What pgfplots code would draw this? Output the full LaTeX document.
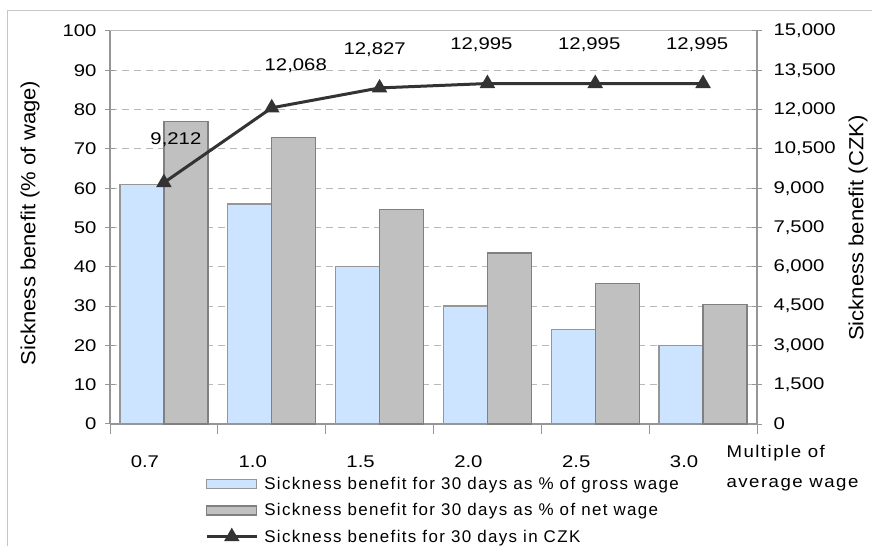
\documentclass[border=0pt]{standalone}
\usepackage{pgfplots}
\pgfplotsset{compat=1.18}
\usepackage{fontspec}
\setmainfont{Liberation Sans}
\definecolor{barblue}{RGB}{204,228,255}
\definecolor{bargrey}{RGB}{192,192,192}
\definecolor{edgegrey}{RGB}{128,128,128}
\definecolor{blueedge}{RGB}{150,150,150}
\definecolor{axisgrey}{RGB}{150,150,150}
\definecolor{gridgrey}{RGB}{185,185,185}
\definecolor{linecol}{RGB}{51,51,51}
\newcommand{\cf}{\fontsize{17}{20}\selectfont}
\newcommand{\lf}{\fontsize{17}{20}\selectfont\addfontfeature{LetterSpace=8}}
\newcommand{\yf}{\fontsize{20.5}{24}\selectfont}
\newcommand{\sx}[1]{\scalebox{1.2}[1]{#1}}
\pgfplotsset{
  every axis/.append style={font=\cf},
  /pgf/number format/assume math mode=true,
  tick label style={font=\cf},
  barlegend/.style={legend image code/.code={\draw[##1] (0bp,-4.5bp) rectangle (50bp,4.5bp);}},
  linelegend/.style={legend image code/.code={\draw[mark repeat=2,mark phase=2,##1] plot coordinates {(0bp,0bp) (25bp,0bp) (50bp,0bp)};}},
}
\begin{document}
\begin{tikzpicture}[font=\cf]
\useasboundingbox (0,0) rectangle (872bp,546bp);
\draw[gray!45, line width=1bp] (7bp,-5bp) -- (7bp,535bp) -- (880bp,535bp);
\begin{axis}[
  at={(110bp,122bp)}, anchor=south west, scale only axis,
  width=647bp, height=393bp,
  xmin=-0.5, xmax=5.5, ymin=0, ymax=100,
  axis x line*=bottom, axis y line*=left,
  axis line style={axisgrey, line width=1.2bp},
  ytick={0,10,...,100},
  yticklabel={\sx{\pgfmathprintnumber{\tick}}},
  xtick={0,...,5}, xticklabels={\sx{0.7},\sx{1.0},\sx{1.5},\sx{2.0},\sx{2.5},\sx{3.0}},
  minor xtick={-0.5,0.5,...,5.5},
  major x tick style={draw=none},
  tick align=center, major tick length=10bp, minor tick length=10bp,
  tick style={axisgrey, line width=1bp},
  ymajorgrids, major grid style={gridgrey, dash pattern=on 7bp off 5bp, line width=1bp},
  ybar=0pt, bar width=44bp,
  yticklabel style={anchor=east, xshift=-5bp},
  xticklabel style={anchor=north, xshift=-19bp, yshift=-18bp},
  clip=false,
]
\addplot[fill=barblue, draw=blueedge, line width=1.2bp] coordinates {(0,61) (1,56) (2,40) (3,30) (4,24) (5,20)};
\addplot[fill=bargrey, draw=edgegrey, line width=1.2bp] coordinates {(0,77) (1,73) (2,54.5) (3,43.5) (4,35.7) (5,30.5)};
\draw[gridgrey, line width=1bp] (rel axis cs:0,1) -- (rel axis cs:1,1);
\end{axis}
\begin{axis}[
  at={(110bp,122bp)}, anchor=south west, scale only axis,
  width=647bp, height=393bp,
  xmin=-0.5, xmax=5.5, ymin=0, ymax=15000,
  axis y line*=right, axis x line=none,
  axis line style={axisgrey, line width=1.2bp},
  ytick={0,1500,...,15000}, scaled y ticks=false,
  yticklabel={\sx{\pgfmathprintnumber[fixed,1000 sep={,}]{\tick}}},
  yticklabel style={anchor=west, xshift=8bp},
  tick align=center, major tick length=10bp,
  tick style={axisgrey, line width=1bp},
  clip=false,
  legend style={at={(0.147,-0.13)}, anchor=north west, draw=none, fill=none,
    font=\lf, row sep=8.5bp, inner sep=0pt, nodes={inner xsep=6bp}},
  legend cell align=left,
]
\addlegendimage{fill=barblue, draw=blueedge, line width=1.2bp, barlegend}
\addlegendentry{Sickness benefit for 30 days as \% of gross wage}
\addlegendimage{fill=bargrey, draw=edgegrey, line width=1.2bp, barlegend}
\addlegendentry{Sickness benefit for 30 days as \% of net wage}
\addplot[linecol, line width=3bp, mark=triangle*, mark size=6bp, mark options={solid}, linelegend]
  coordinates {(0,9212) (1,12068) (2,12827) (3,12995) (4,12995) (5,12995)};
\addlegendentry{Sickness benefits for 30 days in CZK}
\node at (axis cs:0,9212) [xshift=12bp, yshift=42.6bp] {\sx{9,212}};
\node at (axis cs:1,12068) [xshift=24bp, yshift=41.8bp] {\sx{12,068}};
\node at (axis cs:2,12827) [xshift=-5bp, yshift=38bp] {\sx{12,827}};
\node at (axis cs:3,12995) [xshift=-6bp, yshift=38.5bp] {\sx{12,995}};
\node at (axis cs:4,12995) [xshift=-6bp, yshift=38.5bp] {\sx{12,995}};
\node at (axis cs:5,12995) [xshift=-6bp, yshift=38.5bp] {\sx{12,995}};
\end{axis}
\node[rotate=90, font=\yf] at (30bp,323bp) {\scalebox{1.08}[1]{Sickness benefit (\% of wage)}};
\node[rotate=90, font=\yf] at (858bp,318bp) {\scalebox{1.08}[1]{Sickness benefit (CZK)}};
\node[anchor=base west, font=\lf] at (723bp,88bp) {\scalebox{1.1}[1]{Multiple of}};
\node[anchor=base west, font=\lf] at (723bp,58bp) {\scalebox{1.1}[1]{average wage}};
\end{tikzpicture}
\end{document}
